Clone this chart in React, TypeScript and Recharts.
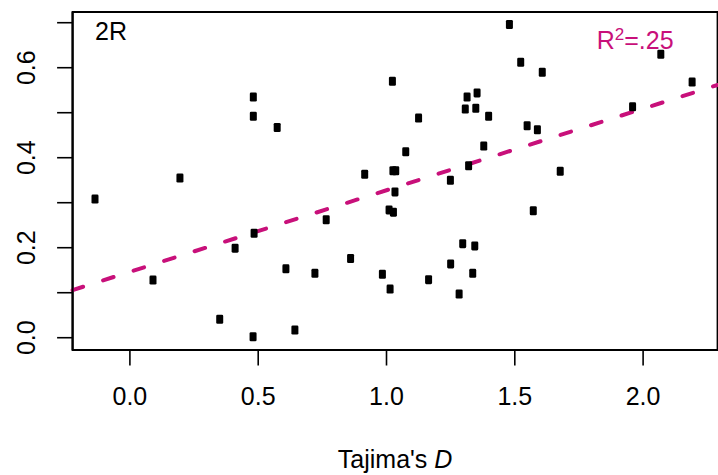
import React from "react";
import {
  ScatterChart,
  Scatter,
  XAxis,
  YAxis,
  ReferenceLine,
  ReferenceArea,
  ReferenceDot,
} from "recharts";

// ---- data ----
const tajimaD = [
  -0.136, 0.09, 0.195, 0.35, 0.41, 0.481, 0.481, 0.484, 0.48, 0.574,
  0.608, 0.643, 0.721, 0.765, 0.86, 0.915, 0.984, 1.01, 1.014, 1.023,
  1.025, 1.036, 1.027, 1.033, 1.075, 1.125, 1.164, 1.249, 1.25, 1.283,
  1.297, 1.307, 1.314, 1.32, 1.336, 1.344, 1.348, 1.353, 1.398, 1.379,
  1.479, 1.523, 1.607, 1.548, 1.588, 1.677, 1.572, 1.959, 2.069, 2.191,
];
const yValues = [
  0.308, 0.128, 0.355, 0.041, 0.199, 0.535, 0.492, 0.232, 0.002, 0.467,
  0.153, 0.017, 0.143, 0.262, 0.176, 0.363, 0.141, 0.284, 0.108, 0.57,
  0.371, 0.371, 0.279, 0.324, 0.413, 0.488, 0.129, 0.35, 0.164, 0.097,
  0.209, 0.508, 0.535, 0.382, 0.143, 0.204, 0.51, 0.544, 0.492, 0.426,
  0.696, 0.612, 0.59, 0.471, 0.462, 0.37, 0.282, 0.513, 0.63, 0.568,
];
const xTicks = [0, 0.5, 1, 1.5, 2];
const yTicks = [0, 0.1, 0.2, 0.3, 0.4, 0.5, 0.6, 0.7];
const yLabeled = [0, 0.2, 0.4, 0.6];
const xDomain = [-0.2233, 2.2903];
const yDomain = [-0.0273, 0.7238];
const fitIntercept = 0.1464;
const fitSlope = 0.1813;
const panelLabel = "2R";
const r2Label = ".25";
const panelLabelPos = { x: -0.136, y: 0.6616 };
const r2LabelPos = { x: 1.819, y: 0.6416 };

const points = tajimaD.map((x, i) => ({ x, y: yValues[i] }));

const FONT = "'Liberation Sans', Arial, Helvetica, sans-serif";
const MAGENTA = "#C8107A";
const FS = 25;

const Square = (props: any) => {
  const { cx, cy } = props;
  if (cx == null || cy == null) return null;
  return <rect x={cx - 3.5} y={cy - 4.5} width={7} height={9} rx={1.3} fill="#000" />;
};

const XTick = (props: any) => {
  const { x, y, payload } = props;
  return (
    <text x={x} y={y} dy="0.72em" textAnchor="middle" fontFamily={FONT} fontSize={FS} fill="#000">
      {Number(payload.value).toFixed(1)}
    </text>
  );
};

const YTick = (props: any) => {
  const { x, y, payload } = props;
  const v = Number(payload.value);
  if (!yLabeled.some((t) => Math.abs(t - v) < 1e-9)) return null;
  return (
    <text
      x={0}
      y={0}
      transform={`translate(${x},${y}) rotate(-90)`}
      textAnchor="middle"
      fontFamily={FONT}
      fontSize={FS}
      fill="#000"
    >
      {v.toFixed(1)}
    </text>
  );
};

const XTitle = (props: any) => {
  const vb = props.viewBox || {};
  return (
    <text
      x={vb.x + vb.width / 2}
      y={vb.y + 117.5}
      textAnchor="middle"
      fontFamily={FONT}
      fontSize={FS}
      fill="#000"
    >
      Tajima's <tspan fontStyle="italic">D</tspan>
    </text>
  );
};

const PanelText = (props: any) => {
  const vb = props.viewBox || {};
  return (
    <text x={vb.x} y={vb.y} fontFamily={FONT} fontSize={FS} fill="#000">
      {panelLabel}
    </text>
  );
};

const R2Text = (props: any) => {
  const vb = props.viewBox || {};
  return (
    <text x={vb.x} y={vb.y} fontFamily={FONT} fontSize={FS} fill={MAGENTA}>
      R
      <tspan fontSize={17} dy={-9}>2</tspan>
      <tspan dy={9}>={r2Label}</tspan>
    </text>
  );
};

export default function App() {
  return (
    <div style={{ position: "absolute", left: 0, top: 0, width: 718, height: 475, background: "#fff" }}>
      <ScatterChart width={718} height={475} margin={{ top: 12, right: 0.4, bottom: 0, left: 0 }}>
        <XAxis
          type="number"
          dataKey="x"
          domain={xDomain}
          allowDataOverflow
          ticks={xTicks}
          interval={0}
          height={125}
          tickSize={15.5}
          tickMargin={21.5}
          tickLine={{ stroke: "#000", strokeWidth: 1.6 }}
          axisLine={{ stroke: "#000", strokeWidth: 2 }}
          tick={<XTick />}
          label={<XTitle />}
        />
        <YAxis
          type="number"
          dataKey="y"
          domain={yDomain}
          allowDataOverflow
          ticks={yTicks}
          interval={0}
          width={72.6}
          tickSize={15.5}
          tickMargin={21.7}
          tickLine={{ stroke: "#000", strokeWidth: 1.6 }}
          axisLine={{ stroke: "#000", strokeWidth: 2 }}
          tick={<YTick />}
        />
        <ReferenceArea
          x1={xDomain[0]}
          x2={xDomain[1]}
          y1={yDomain[0]}
          y2={yDomain[1]}
          fill="none"
          stroke="#000"
          strokeWidth={2}
          ifOverflow="visible"
        />
        <ReferenceLine
          segment={[
            { x: xDomain[0], y: fitIntercept + fitSlope * xDomain[0] },
            { x: xDomain[1], y: fitIntercept + fitSlope * xDomain[1] },
          ]}
          stroke={MAGENTA}
          strokeWidth={4}
          strokeDasharray="11 21"
          strokeLinecap="round"
          ifOverflow="visible"
        />
        <Scatter data={points} shape={<Square />} isAnimationActive={false} />
        <ReferenceDot
          x={panelLabelPos.x}
          y={panelLabelPos.y}
          r={0}
          fill="none"
          stroke="none"
          label={<PanelText />}
        />
        <ReferenceDot
          x={r2LabelPos.x}
          y={r2LabelPos.y}
          r={0}
          fill="none"
          stroke="none"
          label={<R2Text />}
        />
      </ScatterChart>
    </div>
  );
}
